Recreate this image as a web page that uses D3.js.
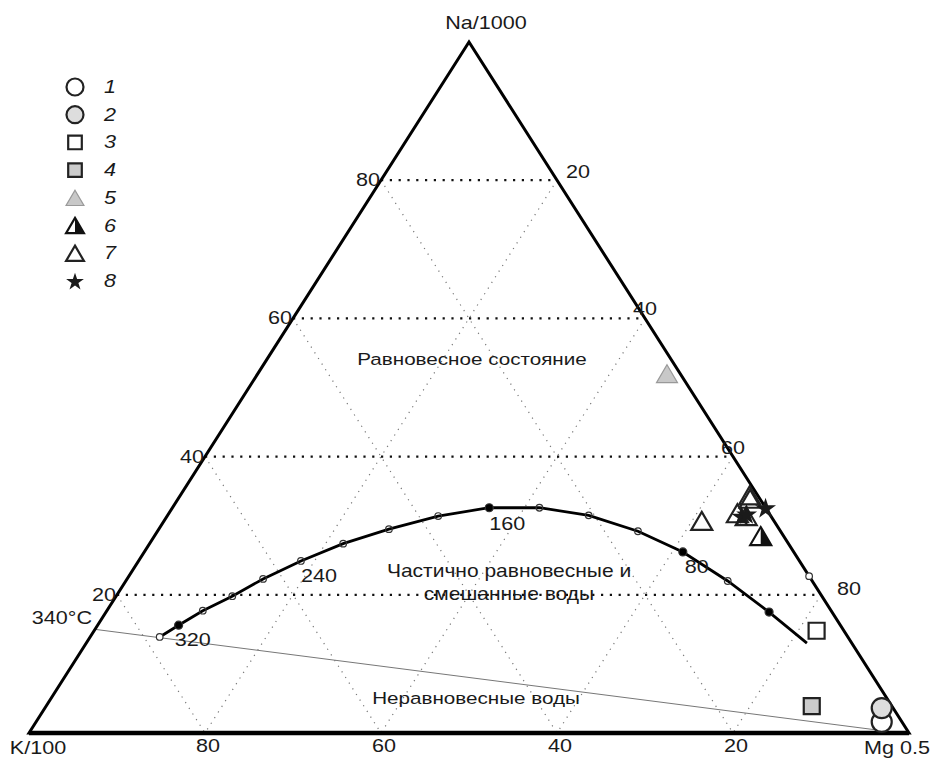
<!DOCTYPE html>
<html><head><meta charset="utf-8">
<script src="https://cdn.jsdelivr.net/npm/d3@7"></script>
<style>
body{margin:0;background:#fff}
text{font-family:"Liberation Sans",Arial,Helvetica,sans-serif;fill:#1a1a1a}
</style>
</head><body>
<svg id="chart" width="935" height="758"></svg>
<script>
// ---------- DATA ----------
const gridTicks = [20, 40, 60, 80];
const naTickLabels = ["20", "40", "60", "80"];      // left side (Na)
const mgTickLabels = ["20", "40", "60", "80"];      // right side (Mg), at Na = 80,60,40,20
const kTickLabels  = ["20", "40", "60", "80"];      // bottom (K)
const vertexLabels = ["Na/1000", "K/100", "Mg 0.5"];

// full-equilibrium curve (percent Na, percent Mg; K = rest)
const curveNa = [13.9, 15.6, 17.7, 19.8, 22.3, 24.9, 27.4, 29.5, 31.4, 32.6, 32.6, 31.5, 29.2, 26.2, 22.0, 17.5, 13.0];
const curveMg = [7.9, 9.2, 10.9, 13.2, 15.45, 18.45, 22.0, 26.15, 30.8, 36.0, 41.7, 47.85, 54.6, 61.2, 68.4, 75.35, 81.9];
const curveMarks = ["white","filled","open","open","open","open","open","open","open","filled","open","open","open","filled","open","filled","none"];
const curveLabelIdx = [0, 5, 9, 13];
const curveLabelText = ["320", "240", "160", "80"];
const edgeMarkNa = [22.7], edgeMarkMg = [77.3];

// immature-water line (Na, Mg)
const immatureNa = [15.0, 0.2];
const immatureMg = [0.0, 97.7];

// sample groups: [Na, K, Mg]
const group1 = [[1.6, 2.3, 96.1]];
const group2 = [[3.6, 1.3, 95.1]];
const group3 = [[14.8, 3.1, 82.1]];
const group4 = [[3.9, 9.1, 87.0]];
const group5 = [[52.0, 1.5, 46.5]];
const group6 = [[28.5, 2.6, 68.9]];
const group7 = [[30.7, 8.2, 61.1], [34.4, 0.9, 64.7], [33.9, 1.1, 65.0], [31.8, 3.6, 64.6], [31.4, 2.8, 65.8]];
const group8 = [[31.4, 3.3, 65.3], [31.7, 2.6, 65.7], [32.6, 0.0, 67.4]];
const legendLabels = ["1", "2", "3", "4", "5", "6", "7", "8"];
const regionLabels = ["Равновесное состояние", "Частично равновесные и", "смешанные воды", "Неравновесные воды"];

// ---------- SETUP ----------
const svg = d3.select("#chart");
const xs = d3.scaleLinear().domain([0, 100]).range([29, 909]);
const ys = d3.scaleLinear().domain([0, 100]).range([733, 42]);
const SX = 1.2;
function P(na, mg) { return [xs(mg + na / 2), ys(na)]; }

function txt(x, y, s, anchor, size, italic) {
  return svg.append("text")
    .attr("transform", `translate(${x},${y}) scale(${SX},1)`)
    .attr("text-anchor", anchor || "start")
    .style("font-size", (size || 18) + "px")
    .style("font-style", italic ? "italic" : "normal")
    .text(s);
}

const line = d3.line();

// ---------- GRID ----------
gridTicks.forEach(t => {
  svg.append("path").attr("d", line([P(100 - t, 0), P(0, 100 - t)]))
    .attr("stroke", "#777").attr("stroke-width", 1.2).attr("stroke-dasharray", "1.2,5.5").attr("fill", "none");
  svg.append("path").attr("d", line([P(100 - t, t), P(0, t)]))
    .attr("stroke", "#777").attr("stroke-width", 1.2).attr("stroke-dasharray", "1.2,5.5").attr("fill", "none");
});
gridTicks.forEach(t => {
  svg.append("path").attr("d", line([P(t, 0), P(t, 100 - t)]))
    .attr("stroke", "#111").attr("stroke-width", 2.2).attr("stroke-dasharray", "2.2,6.6").attr("fill", "none");
});

// immature water line
svg.append("path").attr("d", line(immatureNa.map((n, i) => P(n, immatureMg[i]))))
  .attr("stroke", "#777").attr("stroke-width", 1).attr("fill", "none");

// ---------- TRIANGLE ----------
svg.append("path").attr("d", line([P(0, 0), P(100, 0), P(0, 100)]) + "Z")
  .attr("fill", "none").attr("stroke", "#000").attr("stroke-width", 3).attr("stroke-linejoin", "miter");
svg.append("path").attr("d", line([P(0, 0), P(0, 100)]))
  .attr("stroke", "#000").attr("stroke-width", 4.5);

// ---------- CURVE ----------
const curvePts = curveNa.map((n, i) => P(n, curveMg[i]));
svg.append("path").attr("d", line(curvePts)).attr("fill", "none").attr("stroke", "#000").attr("stroke-width", 2.8);
curvePts.forEach((p, i) => {
  const m = curveMarks[i];
  if (m === "none") return;
  svg.append("circle").attr("cx", p[0]).attr("cy", p[1])
    .attr("r", m === "filled" ? 4 : 3.3)
    .attr("fill", m === "filled" ? "#000" : (m === "white" ? "#fff" : "none"))
    .attr("stroke", "#333").attr("stroke-width", 1.2);
});
edgeMarkNa.forEach((n, i) => {
  const p = P(n, edgeMarkMg[i]);
  svg.append("circle").attr("cx", p[0]).attr("cy", p[1]).attr("r", 3.3)
    .attr("fill", "#fff").attr("stroke", "#333").attr("stroke-width", 1.2);
});
const labelOff = [[15, 9], [0, 21], [0, 22], [2, 21]];
curveLabelIdx.forEach((idx, j) => {
  const p = curvePts[idx];
  txt(p[0] + labelOff[j][0], p[1] + labelOff[j][1], curveLabelText[j], "start");
});
{
  const p = P(immatureNa[0], immatureMg[0]);
  txt(p[0] - 3, p[1] - 5, "340°C", "end");
}

// ---------- AXIS LABELS ----------
const mgOff = {20: [9, -2], 40: [-12, -3], 60: [-12, -3], 80: [16, 0]};
gridTicks.forEach((t, i) => {
  const l = P(t, 0);
  txt(l[0] - 1, l[1] + 6, naTickLabels[i], "end");
  const r = P(100 - t, t);
  txt(r[0] + mgOff[t][0], r[1] + mgOff[t][1], mgTickLabels[i], "start");
  const b = P(0, 100 - t);
  txt(b[0] + 3, 752, kTickLabels[i], "middle");
});
txt(P(100, 0)[0] + 17, 29, vertexLabels[0], "middle");
txt(P(0, 0)[0] + 9, 754, vertexLabels[1], "middle");
txt(P(0, 100)[0] - 12, 754, vertexLabels[2], "middle");

// region labels
txt(472, 365, regionLabels[0], "middle", 17.2);
txt(509, 577, regionLabels[1], "middle", 17.5);
txt(509, 600, regionLabels[2], "middle", 17.5);
txt(476, 704, regionLabels[3], "middle", 17.2);

// ---------- MARKERS ----------
function triPath(w, h) { return `M0,${-h / 2}L${w / 2},${h / 2}L${-w / 2},${h / 2}Z`; }
function halfPath(w, h) { return `M0,${-h / 2}L${w / 2},${h / 2}L0,${h / 2}Z`; }
const styles = [
  {type: "circle", fill: "#fff", stroke: "#222"},
  {type: "circle", fill: "#ddd", stroke: "#222"},
  {type: "square", fill: "#fff", stroke: "#222"},
  {type: "square", fill: "#ccc", stroke: "#222"},
  {type: "tri", fill: "#c8c8c8", stroke: "#999"},
  {type: "half", fill: "#fff", stroke: "#111"},
  {type: "tri", fill: "none", stroke: "#222"},
  {type: "star", fill: "#1a1a1a", stroke: "none"}
];
function drawMarker(g, st, x, y, k) {
  const sw = 2.2;
  if (st.type === "circle") {
    g.append("path").attr("transform", `translate(${x},${y})`)
      .attr("d", d3.symbol(d3.symbolCircle, Math.PI * (10 * k) ** 2)())
      .attr("fill", st.fill).attr("stroke", st.stroke).attr("stroke-width", sw);
  } else if (st.type === "square") {
    g.append("path").attr("transform", `translate(${x},${y})`)
      .attr("d", d3.symbol(d3.symbolSquare, (16 * k) ** 2)())
      .attr("fill", st.fill).attr("stroke", st.stroke).attr("stroke-width", sw);
  } else if (st.type === "tri" || st.type === "half") {
    g.append("path").attr("transform", `translate(${x},${y})`)
      .attr("d", triPath(21 * k, 18 * k))
      .attr("fill", st.fill).attr("stroke", st.stroke)
      .attr("stroke-width", st.stroke === "#999" ? 1.2 : sw).attr("stroke-linejoin", "miter");
    if (st.type === "half") {
      g.append("path").attr("transform", `translate(${x},${y})`)
        .attr("d", halfPath(21 * k, 18 * k)).attr("fill", "#111");
    }
  } else if (st.type === "star") {
    g.append("path").attr("transform", `translate(${x},${y + 1})`)
      .attr("d", d3.symbol(d3.symbolStar, (11 * k) ** 2 / 0.8908130915292852)())
      .attr("fill", st.fill);
  }
}
const groups = [group1, group2, group3, group4, group5, group6, group7, group8];
const mg = svg.append("g");
groups.forEach((grp, gi) => {
  grp.forEach(d => {
    const s = d[0] + d[1] + d[2];
    const p = P(d[0] / s * 100, d[2] / s * 100);
    drawMarker(mg, styles[gi], p[0], p[1], 1);
  });
});

// ---------- LEGEND ----------
const legY = d3.scaleLinear().domain([0, 7]).range([87, 281]);
legendLabels.forEach((l, i) => {
  drawMarker(svg, styles[i], 75, legY(i), 0.85);
  txt(104, legY(i) + 6, l, "start", 18, true);
});
</script>
</body></html>
